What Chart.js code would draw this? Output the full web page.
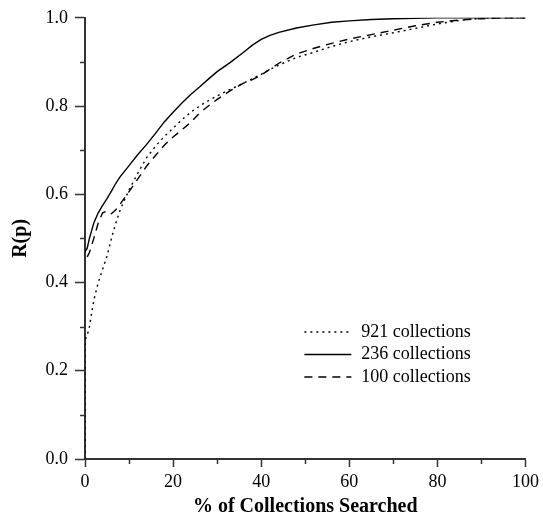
<!DOCTYPE html>
<html>
<head>
<meta charset="utf-8">
<script src="https://cdn.jsdelivr.net/npm/chart.js@4/dist/chart.umd.min.js"></script>
<style>
  html, body { margin: 0; padding: 0; background: #fff; }
  #chart { display: block; }
</style>
</head>
<body>
<canvas id="chart" width="543" height="516"></canvas>
<script>
// ===== DATA =====
const pctSearched = [0, 0, 0.5, 1, 2, 3, 4, 5, 6, 7, 8,
    10, 12, 14, 16, 18, 20, 22, 24, 26, 28, 30,
    33, 36, 38, 40, 42, 44, 48, 52, 56, 60,
    65, 70, 75, 80, 85, 90, 95, 100];

const r921 = [0, 0.27, 0.28, 0.30, 0.36, 0.40, 0.43, 0.46, 0.50, 0.535, 0.565,
    0.61, 0.648, 0.683, 0.709, 0.731, 0.75, 0.769, 0.786, 0.80, 0.812, 0.823,
    0.838, 0.852, 0.862, 0.872, 0.883, 0.893, 0.91, 0.922, 0.935, 0.946,
    0.957, 0.966, 0.976, 0.986, 0.994, 0.999, 1.0, 1.0];

const r236 = [null, 0.47, 0.478, 0.50, 0.535, 0.558, 0.575, 0.59, 0.607, 0.625, 0.64,
    0.665, 0.69, 0.713, 0.738, 0.764, 0.786, 0.807, 0.826, 0.843, 0.861, 0.878,
    0.899, 0.922, 0.938, 0.951, 0.96, 0.967, 0.977, 0.984, 0.99, 0.993,
    0.996, 0.998, 0.999, 1.0, 1.0, 1.0, 1.0, 1.0];

const r100 = [null, null, 0.458, 0.468, 0.50, 0.535, 0.558, 0.562, 0.556, 0.565, 0.578,
    0.606, 0.635, 0.664, 0.688, 0.711, 0.73, 0.746, 0.763, 0.784, 0.80, 0.815,
    0.835, 0.852, 0.86, 0.87, 0.884, 0.897, 0.918, 0.931, 0.942, 0.952,
    0.962, 0.972, 0.982, 0.99, 0.995, 0.998, 1.0, 1.0];

const seriesLabels = ['921 collections', '236 collections', '100 collections'];
const xMinorTicks = [10, 30, 50, 70, 90];
const yMinorTicks = [0.1, 0.3, 0.5, 0.7, 0.9];

const FONT = "'Liberation Serif', 'Times New Roman', serif";
const AXIS = '#333';

function toPoints(ys) {
    return pctSearched.map((x, i) => ({ x: x, y: ys[i] }));
}

// minor ticks (shorter) on both axes
const minorTicks = {
    id: 'minorTicks',
    afterDraw(chart) {
        const { ctx, scales: { x, y } } = chart;
        ctx.save();
        ctx.strokeStyle = AXIS;
        ctx.lineWidth = 1.5;
        ctx.beginPath();
        xMinorTicks.forEach(v => {
            const px = Math.round(x.getPixelForValue(v)) + 0.5;
            ctx.moveTo(px, y.bottom);
            ctx.lineTo(px, y.bottom + 5);
        });
        yMinorTicks.forEach(v => {
            const py = Math.round(y.getPixelForValue(v)) + 0.5;
            ctx.moveTo(x.left - 5, py);
            ctx.lineTo(x.left, py);
        });
        ctx.stroke();
        ctx.restore();
    }
};

// legend inside the plot, lower right
const innerLegend = {
    id: 'innerLegend',
    afterDraw(chart) {
        const { ctx, chartArea: a } = chart;
        const x0 = a.left + a.width * 0.498;
        const y0 = a.top + a.height * 0.712;
        const rowH = 22.5;
        ctx.save();
        ctx.font = '18px ' + FONT;
        ctx.textBaseline = 'middle';
        ctx.fillStyle = '#000';
        chart.data.datasets.forEach((ds, i) => {
            const y = y0 + i * rowH;
            ctx.strokeStyle = ds.borderColor;
            ctx.lineWidth = ds.borderWidth;
            ctx.setLineDash(ds.borderDash || []);
            ctx.beginPath();
            ctx.moveTo(x0, y);
            ctx.lineTo(x0 + 47, y);
            ctx.stroke();
            ctx.setLineDash([]);
            ctx.fillText(ds.label, x0 + 57, y);
        });
        ctx.restore();
    }
};

new Chart(document.getElementById('chart').getContext('2d'), {
    type: 'line',
    data: {
        datasets: [
            {
                label: seriesLabels[0],
                data: toPoints(r921),
                borderColor: '#000',
                borderWidth: 1.4,
                borderDash: [2, 4],
            },
            {
                label: seriesLabels[1],
                data: toPoints(r236),
                borderColor: '#000',
                borderWidth: 1.4,
            },
            {
                label: seriesLabels[2],
                data: toPoints(r100),
                borderColor: '#000',
                borderWidth: 1.4,
                borderDash: [8, 6],
            }
        ]
    },
    options: {
        responsive: false,
        animation: false,
        layout: { padding: { left: 9, top: 17, right: 16, bottom: 0 } },
        elements: { point: { radius: 0 }, line: { tension: 0 } },
        plugins: {
            legend: { display: false },
            tooltip: { enabled: false }
        },
        scales: {
            x: {
                type: 'linear',
                min: 0,
                max: 100,
                afterFit: s => { s.height = 57; },
                ticks: {
                    stepSize: 20,
                    color: '#000',
                    padding: 4,
                    maxRotation: 0,
                    font: { family: FONT, size: 18 }
                },
                grid: {
                    drawOnChartArea: false,
                    tickLength: 8,
                    tickColor: AXIS,
                    tickWidth: 1.5
                },
                border: { color: AXIS, width: 2 },
                title: {
                    display: true,
                    text: '% of Collections Searched',
                    color: '#000',
                    padding: { top: 0, bottom: 0 },
                    font: { family: FONT, size: 20, weight: 'bold', lineHeight: 0.9 }
                }
            },
            y: {
                type: 'linear',
                min: 0,
                max: 1,
                afterFit: s => { s.width = 76; },
                ticks: {
                    stepSize: 0.2,
                    color: '#000',
                    padding: 7,
                    font: { family: FONT, size: 18 },
                    callback: v => v.toFixed(1)
                },
                grid: {
                    drawOnChartArea: false,
                    tickLength: 10,
                    tickColor: AXIS,
                    tickWidth: 1.5
                },
                border: { color: AXIS, width: 2 },
                title: {
                    display: true,
                    text: 'R(p)',
                    color: '#000',
                    padding: { top: 0, bottom: 0 },
                    font: { family: FONT, size: 20, weight: 'bold' }
                }
            }
        }
    },
    plugins: [minorTicks, innerLegend]
});
</script>
</body>
</html>
